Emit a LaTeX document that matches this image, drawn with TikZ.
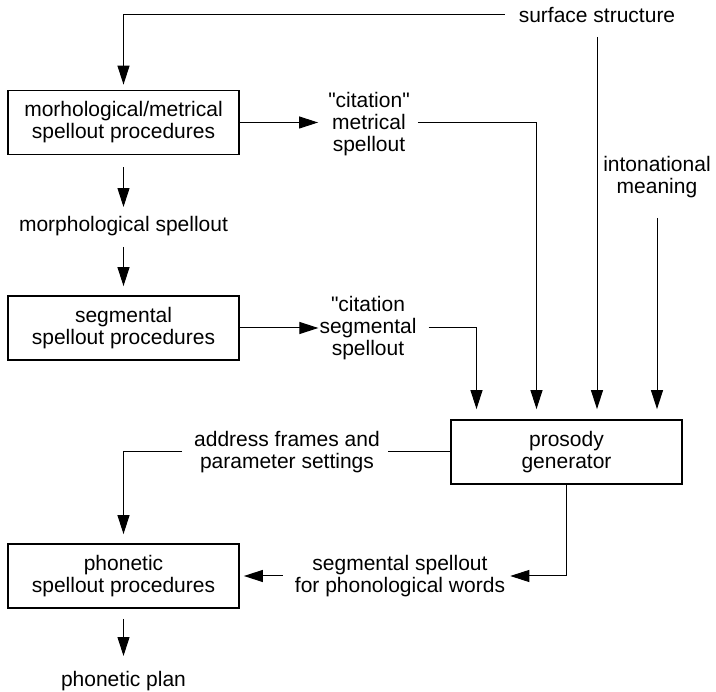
\documentclass[tikz,border=0pt]{standalone}
\usepackage{fontspec}
\setmainfont{Liberation Sans}
\usetikzlibrary{arrows.meta}
\begin{document}
\begin{tikzpicture}[x=1pt,y=-1pt,
    font=\fontsize{21}{22}\selectfont,
    box/.style={draw,line width=1.8pt,minimum width=231pt,minimum height=64pt,inner sep=0pt,align=center},
    lbl/.style={inner sep=0pt,align=center},
    arr/.style={line width=1pt,-{Triangle[length=19pt,width=12pt]}}]
  \useasboundingbox (0,0) rectangle (716,692);
  \draw
    (123.5,122.5) node[box] (mm) {morhological/metrical\\spellout procedures}
    (123.5,328) node[box] (seg) {segmental\\spellout procedures}
    (123.5,576) node[box] (ph) {phonetic\\spellout procedures}
    (566.5,452) node[box] (pg) {prosody\\generator}
    (597,15) node[lbl] (ss) {surface structure}
    (369,124) node[lbl] (cm) {\textquotedbl citation\textquotedbl\\metrical\\spellout}
    (657,177) node[lbl] (im) {intonational\\meaning}
    (123.5,226) node[lbl] (ms) {morphological spellout}
    (368,328) node[lbl] (cs) {\textquotedbl citation\\segmental\\spellout}
    (287,452) node[lbl] (ap) {address frames and\\parameter settings}
    (400,576) node[lbl] (sp) {segmental spellout\\for phonological words}
    (123.5,681) node[lbl] (pp) {phonetic plan};
  \begin{scope}[arr]
    \draw[shorten >=5pt] ([xshift=-14pt]ss.west) -| (mm.north);
    \draw[shorten <=14pt,shorten >=10pt] (ss.south) -- (ss.south |- pg.north);
    \draw[shorten >=10pt] (mm.east) -- (mm.east -| cm.west);
    \draw[shorten <=8pt,shorten >=10pt] (cm.east |- mm.east) -| ([xshift=-30pt]pg.north);
    \draw[shorten <=20pt,shorten >=10pt] (im.south) -- (im.south |- pg.north);
    \draw[shorten <=12pt,shorten >=9pt] (mm.south) -- (ms.north);
    \draw[shorten <=11pt,shorten >=9pt] (ms.south) -- (seg.north);
    \draw[shorten >=1pt] (seg.east) -- (seg.east -| cs.west);
    \draw[shorten <=12pt,shorten >=10pt] (cs.east |- seg.east) -| ([xshift=-90pt]pg.north);
    \draw[-,shorten >=8pt] (pg.west) -- (pg.west -| ap.east);
    \draw[shorten <=12pt,shorten >=9pt] (ap.west) -| (ph.north);
    \draw[shorten >=5pt] (pg.south) |- (sp.east);
    \draw[shorten <=12pt,shorten >=4pt] (sp.west) -- (sp.west -| ph.east);
    \draw[shorten <=10pt,shorten >=15pt] (ph.south) -- (pp.north);
  \end{scope}
\end{tikzpicture}
\end{document}
